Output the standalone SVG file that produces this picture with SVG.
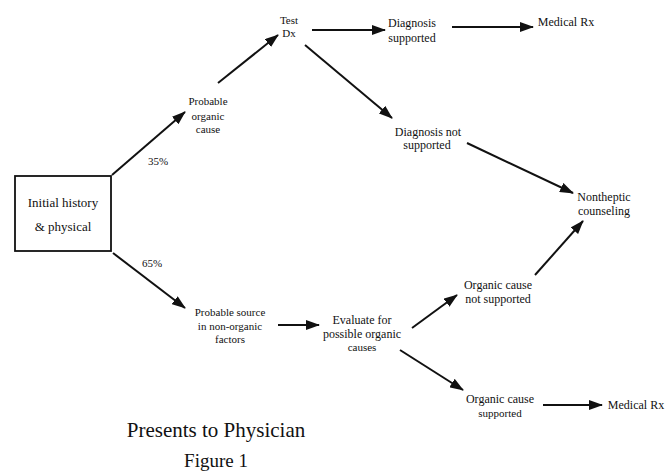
<svg xmlns="http://www.w3.org/2000/svg" width="666" height="471" viewBox="0 0 666 471">
<style>
text{font-family:"Liberation Serif","DejaVu Serif",serif;fill:#111;text-anchor:middle}
.n{font-size:12px}
.s{font-size:11px}
.b{font-size:13px}
.cap{font-size:21px}
.c line{stroke:#111;stroke-width:2;marker-end:url(#ah)}
</style>
<defs>
<marker id="ah" markerUnits="userSpaceOnUse" markerWidth="14" markerHeight="10" viewBox="0 0 14 10" refX="13" refY="5" orient="auto">
<path d="M0,0 L14,5 L0,10 z" fill="#111"/>
</marker>
</defs>
<rect width="666" height="471" fill="#fff"/>
<g id="initial">
<rect x="15" y="176" width="96" height="75" fill="none" stroke="#111" stroke-width="1.8"/>
<text class="b" x="63" y="207">Initial history</text>
<text class="b" x="63" y="231">&amp; physical</text>
</g>
<g id="probable-organic">
<text class="s" x="208" y="105">Probable</text>
<text class="s" x="208" y="120">organic</text>
<text class="s" x="208" y="133">cause</text>
</g>
<g id="test-dx">
<text class="s" x="289" y="24">Test</text>
<text class="s" x="289" y="37">Dx</text>
</g>
<g id="diagnosis-supported">
<text class="n" x="412" y="27">Diagnosis</text>
<text class="n" x="412" y="42">supported</text>
</g>
<g id="medical-rx-1">
<text class="n" x="566" y="26">Medical Rx</text>
</g>
<g id="diagnosis-not-supported">
<text class="n" x="428" y="136">Diagnosis not</text>
<text class="n" x="427" y="149">supported</text>
</g>
<g id="counseling">
<text class="n" x="604" y="201">Nontheptic</text>
<text class="n" x="604" y="215">counseling</text>
</g>
<g id="probable-source">
<text class="s" x="230" y="316">Probable source</text>
<text class="s" x="230" y="330">in non-organic</text>
<text class="s" x="230" y="343">factors</text>
</g>
<g id="evaluate">
<text class="n" x="362" y="324">Evaluate for</text>
<text class="n" x="362" y="338">possible organic</text>
<text class="s" x="362" y="351">causes</text>
</g>
<g id="organic-not-supported">
<text class="n" x="498" y="289">Organic cause</text>
<text class="n" x="498" y="303">not supported</text>
</g>
<g id="organic-supported">
<text class="n" x="500" y="403">Organic cause</text>
<text class="s" x="500" y="417">supported</text>
</g>
<g id="medical-rx-2">
<text class="n" x="636" y="409">Medical Rx</text>
</g>
<g id="caption">
<text class="cap" x="216" y="437">Presents to Physician</text>
<text class="cap" x="216" y="467" style="font-size:19px">Figure 1</text>
</g>
<g id="connectors" class="c">
<line x1="112" y1="175" x2="185" y2="112"/>
<line x1="218" y1="83" x2="278" y2="35"/>
<line x1="312" y1="30" x2="385" y2="30"/>
<line x1="452" y1="27" x2="533" y2="27"/>
<line x1="305" y1="45" x2="392" y2="118"/>
<line x1="467" y1="143" x2="573" y2="193"/>
<line x1="113" y1="253" x2="185" y2="308"/>
<line x1="278" y1="325" x2="319" y2="325"/>
<line x1="412" y1="328" x2="457" y2="295"/>
<line x1="400" y1="350" x2="463" y2="390"/>
<line x1="535" y1="275" x2="583" y2="221"/>
<line x1="543" y1="405" x2="602" y2="405"/>
<text class="s" x="158" y="165">35%</text>
<text class="s" x="152" y="267">65%</text>
</g>
</svg>
